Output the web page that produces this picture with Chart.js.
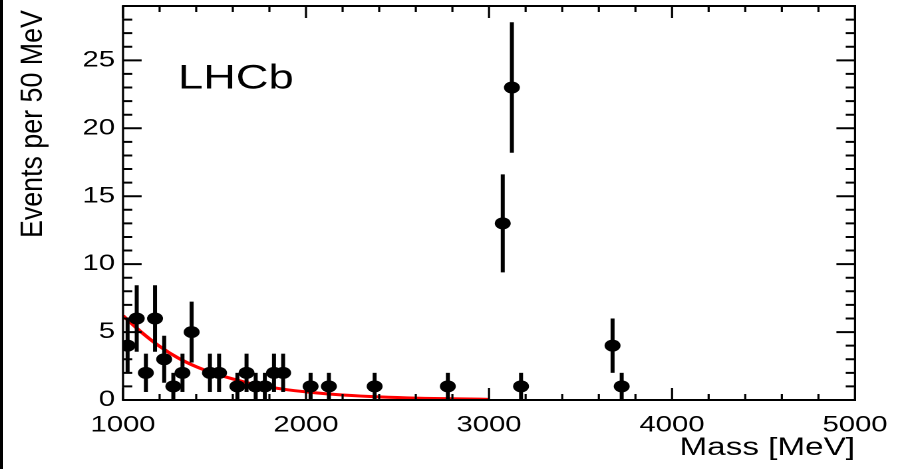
<!DOCTYPE html>
<html><head><meta charset="utf-8">
<script src="https://cdn.jsdelivr.net/npm/chart.js@4.4.0/dist/chart.umd.min.js"></script>
<style>
html,body{margin:0;padding:0;background:#fff;overflow:hidden;width:902px;height:469px;}
#edge{position:absolute;left:0;top:0;width:3px;height:469px;background:#000;z-index:2;}
#wrap{position:absolute;left:0;top:0;width:678px;height:469px;transform-origin:0 0;transform:scaleX(1.33038);}
canvas{display:block;}
</style></head><body>
<div id="wrap"><canvas id="c" width="678" height="469"></canvas></div>
<div id="edge"></div>
<script>
// ---- data ----
const massBins = [1025,1075,1125,1175,1225,1275,1325,1375,1475,1525,1625,1675,1725,1775,1825,1875,2025,2125,2375,2775,3075,3125,3175,3675,3725];
const events   = [4,6,2,6,3,1,2,5,2,2,1,2,1,1,2,2,1,1,1,1,13,23,1,4,1];
const errors   = [2,2.45,1.41,2.45,1.73,1,1.41,2.24,1.41,1.41,1,1.41,1,1,1.41,1.41,1,1,1,1,3.61,4.8,1,2,1];
const fitMass   = [1000,1100,1200,1300,1400,1500,1600,1700,1800,1900,2000,2100,2200,2300,2400,2500,2600,2700,2800,2900,3000];
const fitValues = [6.2,5.0,3.95,3.1,2.45,1.95,1.55,1.2,0.95,0.75,0.6,0.47,0.37,0.29,0.23,0.18,0.14,0.11,0.09,0.07,0.05];
const xTickLabels = [1000,2000,3000,4000,5000];
const yTickLabels = [0,5,10,15,20,25];
const xRange = [1000,5000];
const yRange = [0,29];
const xMinorStep = 200;
const yMinorStep = 1;
const yTitle = 'Events per 50 MeV';
const FONT = '"Liberation Sans", Arial, Helvetica, sans-serif';

const errorBars = {
  id:'errorBars',
  afterDatasetsDraw(chart){
    const {ctx, scales:{x,y}} = chart;
    ctx.save();
    ctx.strokeStyle = '#000';
    ctx.lineWidth = 3;
    ctx.lineCap = 'butt';
    massBins.forEach((m,i)=>{
      const px = x.getPixelForValue(m);
      const lo = y.getPixelForValue(Math.max(0, events[i]-errors[i]));
      const hi = y.getPixelForValue(events[i]+errors[i]);
      ctx.beginPath(); ctx.moveTo(px,lo); ctx.lineTo(px,hi); ctx.stroke();
    });
    ctx.restore();
  }
};

const frame = {
  id:'frame',
  afterDraw(chart){
    const {ctx, chartArea:a, scales:{x,y}} = chart;
    ctx.save();
    ctx.strokeStyle = '#000';
    ctx.lineCap = 'butt';
    // x ticks (bottom and top, inward)
    ctx.lineWidth = 1.6;
    for (let v = xRange[0]; v <= xRange[1]; v += xMinorStep) {
      const px = x.getPixelForValue(v);
      const L = xTickLabels.includes(v) ? 12 : 6;
      ctx.beginPath();
      ctx.moveTo(px, a.bottom); ctx.lineTo(px, a.bottom - L);
      ctx.moveTo(px, a.top); ctx.lineTo(px, a.top + L);
      ctx.stroke();
    }
    // y ticks (left and right, inward)
    ctx.lineWidth = 2;
    for (let v = yRange[0]; v <= yRange[1]; v += yMinorStep) {
      const py = y.getPixelForValue(v);
      const L = yTickLabels.includes(v) ? 14 : 7;
      ctx.beginPath();
      ctx.moveTo(a.left, py); ctx.lineTo(a.left + L, py);
      ctx.moveTo(a.right, py); ctx.lineTo(a.right - L, py);
      ctx.stroke();
    }
    // frame
    ctx.lineWidth = 2;
    ctx.beginPath();
    ctx.moveTo(a.left-0.8, a.top); ctx.lineTo(a.right+0.8, a.top);
    ctx.moveTo(a.left-0.8, a.bottom); ctx.lineTo(a.right+0.8, a.bottom);
    ctx.stroke();
    ctx.lineWidth = 1.6;
    ctx.beginPath();
    ctx.moveTo(a.left, a.top); ctx.lineTo(a.left, a.bottom);
    ctx.moveTo(a.right, a.top); ctx.lineTo(a.right, a.bottom);
    ctx.stroke();
    // experiment label
    ctx.fillStyle = '#000';
    ctx.font = '34px ' + FONT;
    ctx.textBaseline = 'alphabetic';
    ctx.textAlign = 'left';
    ctx.fillText('LHCb', 133.8, 88.5);
    // y-axis title (rotated, top-aligned as in ROOT)
    ctx.save();
    ctx.translate(31.6, 238);
    ctx.rotate(-Math.PI/2);
    ctx.scale(1, 0.85);
    ctx.font = '26.8px ' + FONT;
    ctx.textAlign = 'left';
    ctx.textBaseline = 'alphabetic';
    ctx.fillText(yTitle, 0, 0);
    ctx.restore();
    ctx.restore();
  }
};

const noPad = s => { s.paddingTop = 0; s.paddingBottom = 0; s.paddingLeft = 0; s.paddingRight = 0; };

new Chart(document.getElementById('c'), {
  type:'scatter',
  data:{
    datasets:[
      {
        label:'Data',
        data: massBins.map((m,i)=>({x:m, y:events[i]})),
        pointRadius:6, pointHoverRadius:6,
        pointBackgroundColor:'#000', pointBorderColor:'#000', pointBorderWidth:0,
        showLine:false, order:0
      },
      {
        label:'Fit', type:'line',
        data: fitMass.map((m,i)=>({x:m, y:fitValues[i]})),
        borderColor:'#ff0000', borderWidth:3, pointRadius:0, fill:false,
        tension:0.3, order:1
      }
    ]
  },
  options:{
    responsive:false, devicePixelRatio:2, animation:false,
    layout:{padding:{left:0, right:35.3, top:5, bottom:0}},
    plugins:{legend:{display:false}, tooltip:{enabled:false}},
    scales:{
      x:{
        type:'linear', min:xRange[0], max:xRange[1],
        afterBuildTicks: s => { s.ticks = xTickLabels.map(v=>({value:v})); },
        afterFit: s => { s.height = 69; noPad(s); },
        grid:{display:false, drawTicks:false}, border:{display:false},
        ticks:{padding:12, color:'#000', maxRotation:0, autoSkip:false, font:{family:FONT, size:22},
               callback: v => String(v)},
        title:{display:true, text:'Mass [MeV]', align:'end', color:'#000', font:{family:FONT, size:25}, padding:{top:0, bottom:6}}
      },
      y:{
        type:'linear', min:yRange[0], max:yRange[1],
        afterBuildTicks: s => { s.ticks = yTickLabels.map(v=>({value:v})); },
        afterFit: s => { s.width = 92.45; noPad(s); },
        grid:{display:false, drawTicks:false}, border:{display:false},
        ticks:{padding:6, color:'#000', font:{family:FONT, size:22}, callback: v => String(v)},
        title:{display:false, text:yTitle}
      }
    }
  },
  plugins:[errorBars, frame]
});
</script>
</body></html>
